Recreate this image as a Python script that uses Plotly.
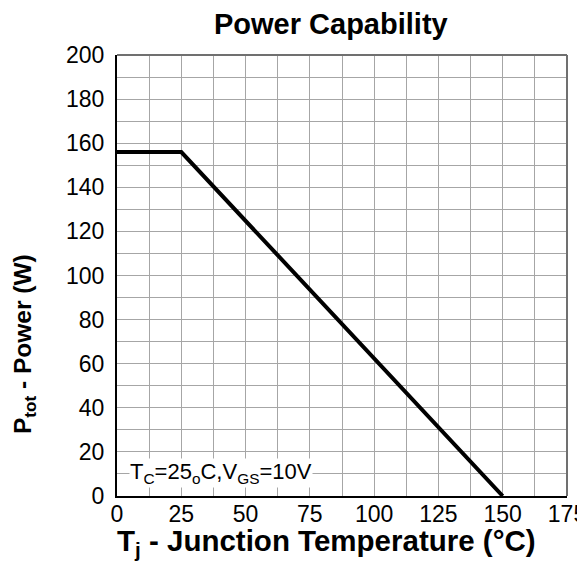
import plotly.graph_objects as go

temp_c = [0, 25, 150]
power_w = [156, 156, 0]
x_ticks = [0, 25, 50, 75, 100, 125, 150, 175]
y_ticks = [0, 20, 40, 60, 80, 100, 120, 140, 160, 180, 200]

FONT = "Liberation Sans, Arial, sans-serif"
GRID = "#a6a6a6"

fig = go.Figure()
fig.add_trace(go.Scatter(x=temp_c, y=power_w, mode="lines",
                         line=dict(color="black", width=4), hoverinfo="skip"))

# the page body has an 8px default margin, so margins are offset by 8px
fig.update_layout(
    width=585, height=564,
    margin=dict(l=109, r=26, t=47, b=76, autoexpand=False),
    paper_bgcolor="white", plot_bgcolor="white",
    showlegend=False,
    font=dict(family=FONT, color="black"),
    xaxis=dict(range=[0, 175], tickvals=x_ticks, ticktext=[str(v) for v in x_ticks],
               showgrid=True, gridcolor=GRID, gridwidth=1,
               minor=dict(dtick=12.5, tick0=0, showgrid=True, gridcolor=GRID, gridwidth=1),
               showline=True, linecolor="black", linewidth=2,
               ticks="", tickfont=dict(size=23, family=FONT), zeroline=False,
               ticklabelstandoff=-4, automargin=False, fixedrange=True),
    yaxis=dict(range=[0, 200], tickvals=y_ticks, ticktext=[str(v) for v in y_ticks],
               showgrid=True, gridcolor=GRID, gridwidth=1,
               minor=dict(dtick=10, tick0=0, showgrid=True, gridcolor=GRID, gridwidth=1),
               showline=True, linecolor="black", linewidth=2,
               ticks="", tickfont=dict(size=23, family=FONT), zeroline=False,
               ticklabelstandoff=6, automargin=False, fixedrange=True),
)

# top and right frame lines
fig.add_shape(type="line", xref="x domain", yref="y domain", x0=0, x1=1, y0=1, y1=1,
              line=dict(color="#707070", width=2))
fig.add_shape(type="line", xref="x domain", yref="y domain", x0=1, x1=1, y0=0, y1=1,
              line=dict(color="#707070", width=2))

fig.add_annotation(text="<b>Power Capability</b>", xref="paper", yref="paper",
                   x=(331 - 117) / 450, y=1.0, yshift=31, showarrow=False,
                   font=dict(size=29, family=FONT), xanchor="center", yanchor="middle")
fig.add_annotation(text="<b>T<sub>j</sub> - Junction Temperature (°C)</b>", xref="paper", yref="paper",
                   x=(326 - 117) / 450, y=0, yshift=-46, showarrow=False,
                   font=dict(size=29.5, family=FONT), xanchor="center", yanchor="middle")
fig.add_annotation(text="<b>P<sub>tot</sub> - Power (W)</b>", xref="paper", yref="paper",
                   x=0, xshift=-93, y=(496 - 344) / 441, showarrow=False, textangle=-90,
                   font=dict(size=24.5, family=FONT), xanchor="center", yanchor="middle")
fig.add_annotation(text="T<sub>C</sub>=25<sub>o</sub>C,V<sub>GS</sub>=10V", xref="x", yref="paper",
                   x=4.5, y=0.052, showarrow=False, bgcolor="white", borderpad=0,
                   font=dict(size=22, family=FONT), xanchor="left", yanchor="middle")

fig.write_html("out.html")
